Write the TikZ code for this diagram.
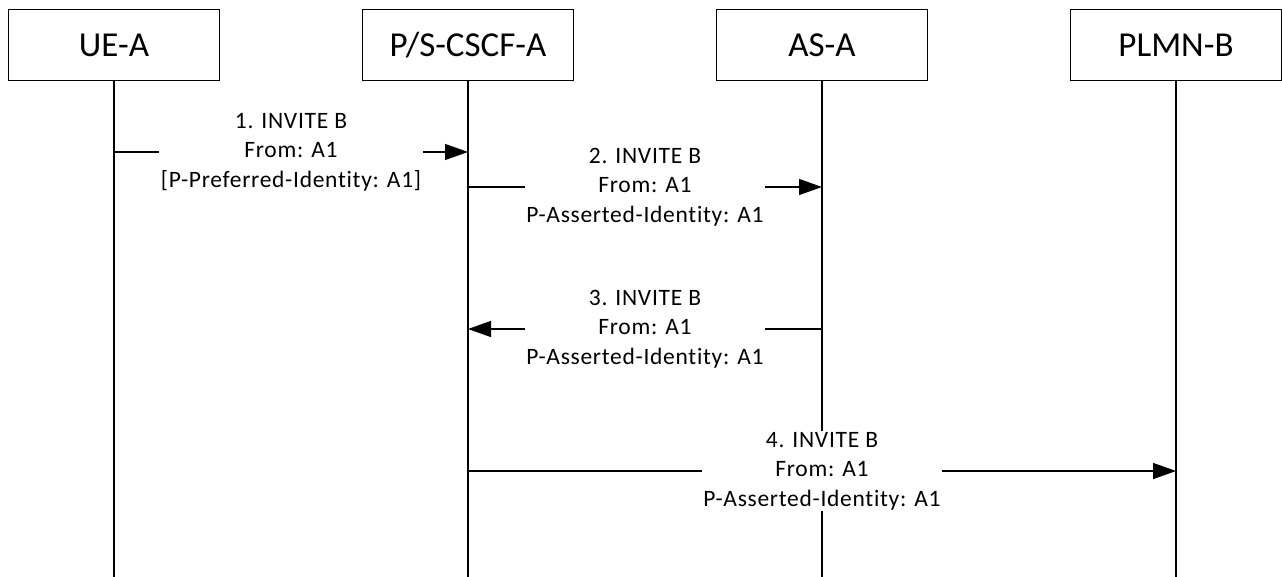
\documentclass[tikz,border=0pt]{standalone}
\usepackage{fontspec}
\setmainfont{Carlito}
\newfontfamily\lblfont[LetterSpace=3,Ligatures={NoCommon,NoRequired}]{Carlito}
\usetikzlibrary{arrows.meta,calc}
\tikzset{
  entity/.style={draw=black, line width=1.5pt, fill=white, minimum width=211pt, minimum height=71pt, inner sep=0pt, font=\fontsize{35}{40}\selectfont},
  life/.style={draw=black, line width=1.4pt},
  msg/.style={draw=black, line width=1.4pt, -{Triangle[length=23pt,width=16pt]}},
  lbl/.style={fill=white, inner sep=1.5pt, align=center, font=\lblfont\fontsize{23.5}{29.5}\selectfont}
}
\begin{document}
\begin{tikzpicture}[x=1pt,y=-1pt]
\useasboundingbox (0,0) rectangle (1282,577);
% entities
\node[entity] (ue) at (114,45) {UE-A};
\node[entity] (cscf) at (468,45) {P/S-CSCF-A};
\node[entity] (as) at (822,45) {AS-A};
\node[entity] (plmn) at (1176,45) {PLMN-B};
% lifeline ends
\coordinate (ueE) at (114,577);
\coordinate (cscfE) at (468,577);
\coordinate (asE) at (822,577);
\coordinate (plmnE) at (1176,577);
\draw[life] (ue.south) -- (ueE);
\draw[life] (cscf.south) -- (cscfE);
\draw[life] (as.south) -- (asE);
\draw[life] (plmn.south) -- (plmnE);
% message end points
\coordinate (m1a) at (114,152);
\coordinate (m1b) at (468,152);
\coordinate (m2a) at (468,187);
\coordinate (m2b) at (822,187);
\coordinate (m3a) at (822,329);
\coordinate (m3b) at (468,329);
\coordinate (m4a) at (468,471);
\coordinate (m4b) at (1176,471);
\draw[msg] (m1a) -- (m1b);
\draw[msg] (m2a) -- (m2b);
\draw[msg] (m3a) -- (m3b);
\draw[msg] (m4a) -- (m4b);
% labels
\node[lbl] (l1) at ($(m1a)!0.5!(m1b)$) {1. INVITE B\\From: A1\\{[}P-Preferred-Identity: A1{]}};
\node[lbl] (l2) at ($(m2a)!0.5!(m2b)$) {2. INVITE B\\From: A1\\P-Asserted-Identity: A1};
\node[lbl] (l3) at ($(m3a)!0.5!(m3b)$) {3. INVITE B\\From: A1\\P-Asserted-Identity: A1};
\node[lbl] (l4) at ($(m4a)!0.5!(m4b)$) {4. INVITE B\\From: A1\\P-Asserted-Identity: A1};
\end{tikzpicture}
\end{document}
